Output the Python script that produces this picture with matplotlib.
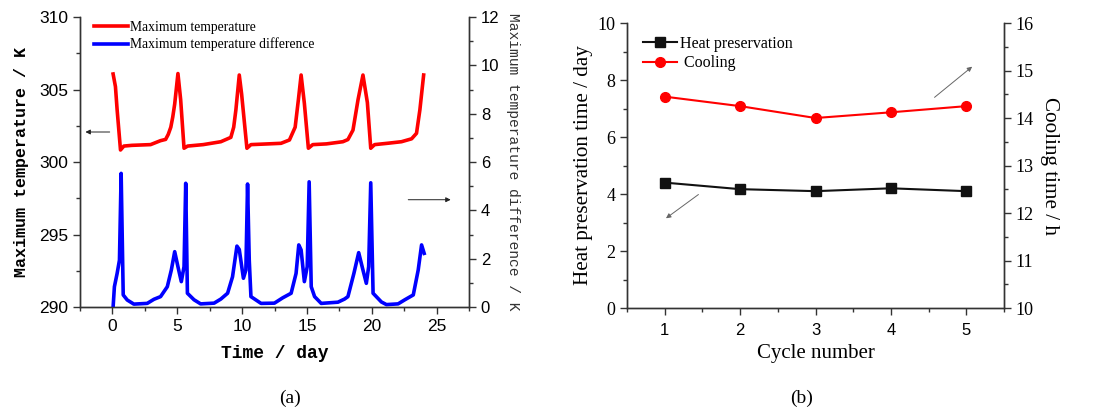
import matplotlib
matplotlib.use("Agg")
import matplotlib.pyplot as plt
from matplotlib.ticker import MultipleLocator
from matplotlib.lines import Line2D

# ---------------- data: panel (a) ----------------
t_red = [0.05, 0.23, 0.36, 0.62, 0.88, 1.5, 2.94, 3.7, 4.1, 4.3, 4.5, 4.65, 4.8, 5.05,
         5.26, 5.52, 5.8, 7.0, 8.36, 9.13, 9.35, 9.52, 9.78, 9.96, 10.37, 10.68, 12.0,
         13.0, 13.65, 14.09, 14.34, 14.55, 14.8, 15.11, 15.45, 16.5, 17.77, 18.16, 18.55,
         18.94, 19.32, 19.66, 19.92, 20.22, 21.3, 22.29, 23.07, 23.45, 23.71, 24.0]
T_red = [306.07, 305.2, 303.6, 300.83, 301.1, 301.15, 301.2, 301.47, 301.56, 301.9, 302.4,
         303.1, 304.0, 306.1, 304.3, 300.95, 301.1, 301.2, 301.4, 301.7, 302.4, 303.6,
         306.0, 304.7, 300.95, 301.2, 301.25, 301.29, 301.52, 302.4, 304.3, 306.0, 304.05,
         300.95, 301.2, 301.25, 301.4, 301.55, 302.2, 304.3, 306.0, 304.1, 300.95, 301.2,
         301.3, 301.4, 301.6, 301.98, 303.6, 306.0]

t_blue = [0.05, 0.15, 0.36, 0.54, 0.67, 0.83, 1.14, 1.65, 2.68, 3.2, 3.71, 4.23, 4.54, 4.8,
          5.05, 5.31, 5.52, 5.65, 5.78, 6.29, 6.8, 7.84, 8.36, 8.88, 9.26, 9.6, 9.78, 10.1,
          10.29, 10.42, 10.55, 10.68, 11.46, 12.49, 13.13, 13.78, 14.16, 14.37, 14.55, 14.8,
          15.02, 15.17, 15.33, 15.59, 16.1, 17.39, 17.9, 18.16, 18.62, 18.99, 19.32, 19.58,
          19.76, 19.92, 20.1, 20.74, 21.13, 22.03, 22.55, 23.2, 23.58, 23.84, 24.04]
v_blue = [0.0, 0.84, 1.39, 1.94, 5.53, 0.5, 0.29, 0.12, 0.15, 0.32, 0.43, 0.84, 1.53, 2.29,
          1.67, 1.05, 1.67, 5.12, 0.57, 0.3, 0.13, 0.16, 0.33, 0.57, 1.25, 2.52, 2.38, 1.19,
          1.53, 5.09, 1.94, 0.43, 0.15, 0.16, 0.38, 0.57, 1.39, 2.57, 2.36, 1.05, 1.67, 5.18,
          0.84, 0.43, 0.15, 0.2, 0.33, 0.43, 1.39, 2.25, 1.53, 0.98, 1.67, 5.14, 0.57, 0.21,
          0.1, 0.13, 0.3, 0.5, 1.53, 2.57, 2.22]

# ---------------- data: panel (b) ----------------
cycles = [1, 2, 3, 4, 5]
heat_preservation = [4.4, 4.17, 4.1, 4.2, 4.1]      # day
cooling = [14.45, 14.25, 14.0, 14.12, 14.25]         # h

SANS = "Liberation Sans"
SERIF = "Liberation Serif"
MONO = "Liberation Mono"
SPC = "#333333"

fig = plt.figure(figsize=(11.01, 4.11), dpi=100)

# ================= panel (a) =================
axa = fig.add_axes([0.0727, 0.253, 0.3533, 0.7056])
axa2 = axa.twinx()
axa.plot(t_red, T_red, color="#ff0000", lw=2.6, solid_joinstyle="round")
axa2.plot(t_blue, v_blue, color="#0000ff", lw=2.6, solid_joinstyle="round")
axa.set_xlim(-2.5, 27.5)
axa.set_ylim(290, 310)
axa2.set_ylim(0, 12)
axa.xaxis.set_major_locator(MultipleLocator(5))
axa.xaxis.set_minor_locator(MultipleLocator(2.5))
axa.yaxis.set_major_locator(MultipleLocator(5))
axa.yaxis.set_minor_locator(MultipleLocator(2.5))
axa2.yaxis.set_major_locator(MultipleLocator(2))
axa2.yaxis.set_minor_locator(MultipleLocator(1))
for ax in (axa, axa2):
    ax.spines["top"].set_visible(False)
    for s in ax.spines.values():
        s.set_color(SPC)
        s.set_linewidth(1.0)
    ax.tick_params(which="major", direction="out", length=5, width=1, color=SPC)
    ax.tick_params(which="minor", direction="out", length=3, width=1, color=SPC)
for lab in axa.get_xticklabels() + axa.get_yticklabels():
    lab.set_fontfamily(SANS)
    lab.set_fontsize(12.5)
for lab in axa2.get_yticklabels():
    lab.set_fontfamily(SANS)
    lab.set_fontsize(12)
axa.set_xlabel("Time / day", family=MONO, fontsize=13, fontweight="bold", labelpad=8)
axa.set_ylabel("Maximum temperature / K", family=MONO, fontsize=12, fontweight="bold", labelpad=7)
axa2.set_ylabel("Maximum temperature difference / K", family=MONO, fontsize=10.5,
                rotation=-90, labelpad=15, color="#333333")
axa.legend(handles=[Line2D([], [], color="#ff0000", lw=2.6),
                    Line2D([], [], color="#0000ff", lw=2.6)],
           labels=["Maximum temperature", "Maximum temperature difference"],
           loc="upper left", bbox_to_anchor=(0.005, 1.03), frameon=False,
           prop={"family": SERIF, "size": 9.8}, handlelength=2.5,
           handletextpad=0.1, labelspacing=0.3)
axa.annotate("", xy=(-2.3, 302.07), xytext=(0.0, 302.07),
             arrowprops=dict(arrowstyle="-|>", color="#222222", lw=0.7, mutation_scale=7))
axa.annotate("", xy=(26.3, 297.4), xytext=(22.6, 297.4),
             arrowprops=dict(arrowstyle="-|>", color="#222222", lw=0.7, mutation_scale=7))

# ================= panel (b) =================
axb = fig.add_axes([0.5695, 0.2506, 0.3424, 0.6934])
axb2 = axb.twinx()
axb.plot(cycles, heat_preservation, color="#111111", lw=1.5, marker="s", markersize=6.5)
axb2.plot(cycles, cooling, color="#ff0000", lw=1.5, marker="o", markersize=7)
axb.set_xlim(0.5, 5.5)
axb.set_ylim(0, 10)
axb2.set_ylim(10, 16)
axb.xaxis.set_major_locator(MultipleLocator(1))
axb.xaxis.set_minor_locator(MultipleLocator(0.5))
axb.yaxis.set_major_locator(MultipleLocator(2))
axb.yaxis.set_minor_locator(MultipleLocator(1))
axb2.yaxis.set_major_locator(MultipleLocator(1))
axb2.yaxis.set_minor_locator(MultipleLocator(0.5))
for ax in (axb, axb2):
    ax.spines["top"].set_visible(False)
    for s in ax.spines.values():
        s.set_color(SPC)
        s.set_linewidth(1.0)
    ax.tick_params(which="major", direction="out", length=5, width=1, color=SPC)
    ax.tick_params(which="minor", direction="out", length=3, width=1, color=SPC)
    for lab in ax.get_yticklabels():
        lab.set_fontfamily(SERIF)
        lab.set_fontsize(13)
axb.tick_params(axis="x", pad=6)
for lab in axb.get_xticklabels():
    lab.set_fontfamily(SANS)
    lab.set_fontsize(12)
axb.set_xlabel("Cycle number", family=SERIF, fontsize=15, labelpad=4)
axb.set_ylabel("Heat preservation time / day", family=SERIF, fontsize=15.2, labelpad=3)
axb2.set_ylabel("Cooling time / h", family=SERIF, fontsize=15.2, rotation=-90, labelpad=18)
axb.legend(handles=[Line2D([], [], color="#111111", lw=1.5, marker="s", markersize=6.5),
                    Line2D([], [], color="#ff0000", lw=1.5, marker="o", markersize=7)],
           labels=["Heat preservation", " Cooling"], loc="upper left",
           bbox_to_anchor=(0.005, 1.005), frameon=False,
           prop={"family": SERIF, "size": 11.5}, handlelength=2.1,
           handletextpad=0.2, labelspacing=0.2)
axb.annotate("", xy=(0.987, 3.09), xytext=(1.477, 4.04),
             arrowprops=dict(arrowstyle="-|>", color="#666666", lw=0.7, mutation_scale=7))
axb.annotate("", xy=(5.106, 8.53), xytext=(4.55, 7.33),
             arrowprops=dict(arrowstyle="-|>", color="#666666", lw=0.7, mutation_scale=7))

fig.text(0.2634, 0.032, "(a)", family=SERIF, fontsize=14, ha="center", va="center")
fig.text(0.7284, 0.032, "(b)", family=SERIF, fontsize=14, ha="center", va="center")

fig.savefig("out.png", dpi=100)
